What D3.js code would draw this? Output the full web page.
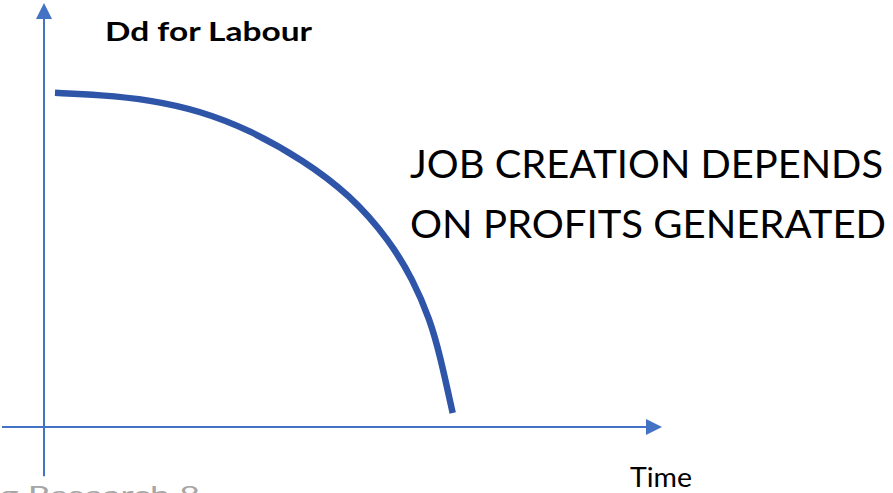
<!DOCTYPE html>
<html>
<head>
<meta charset="utf-8">
<script src="https://cdn.jsdelivr.net/npm/d3@7"></script>
<style>
  html, body { margin: 0; padding: 0; background: #fff; }
  svg { display: block; }
  text { font-family: Lato, "Open Sans", sans-serif; }
</style>
</head>
<body>
<svg id="chart" width="893" height="493"></svg>
<script>
// demand for labour over time
var timeVals = [1.8, 9.2, 17.4, 25.6, 33.8, 42.5, 50.2, 56.6, 60.5, 63.3, 64.9, 67.0];
var demandVals = [81.5, 81.0, 79.8, 77.1, 72.4, 65.1, 56.6, 45.6, 35.9, 26.1, 17.6, 3.4];

var titleLabel = "Dd for Labour";
var xLabel = "Time";
var noteLines = ["JOB CREATION DEPENDS", "ON PROFITS GENERATED"];
var footer = "g Research 8";

function draw() {
    var svg = d3.select("#chart");

    var x = d3.scaleLinear().domain([0, 100]).range([44, 654]);
    var y = d3.scaleLinear().domain([0, 100]).range([427, 17]);

    var axisColor = "#4472c4";

    // y axis
    svg.append("line")
        .attr("x1", x(0)).attr("x2", x(0))
        .attr("y1", y(-12)).attr("y2", y(100) + 2)
        .attr("stroke", axisColor)
        .attr("stroke-width", 2);
    svg.append("path")
        .attr("d", "M" + x(0) + "," + (y(100) - 14) +
                   "L" + (x(0) + 8) + "," + (y(100) + 2) +
                   "L" + (x(0) - 8) + "," + (y(100) + 2) + "Z")
        .attr("fill", axisColor);

    // x axis
    svg.append("line")
        .attr("x1", 2).attr("x2", x(100) - 8)
        .attr("y1", y(0)).attr("y2", y(0))
        .attr("stroke", axisColor)
        .attr("stroke-width", 2);
    svg.append("path")
        .attr("d", "M" + (x(100) + 8) + "," + y(0) +
                   "L" + (x(100) - 8) + "," + (y(0) - 8) +
                   "L" + (x(100) - 8) + "," + (y(0) + 8) + "Z")
        .attr("fill", axisColor);

    // the curve
    var pts = timeVals.map(function(t, i) { return [t, demandVals[i]]; });
    var line = d3.line()
        .x(function(d) { return x(d[0]); })
        .y(function(d) { return y(d[1]); })
        .curve(d3.curveBasis);

    svg.append("path")
        .datum(pts)
        .attr("d", line)
        .attr("fill", "none")
        .attr("stroke", "#2f55a8")
        .attr("stroke-width", 6.5);

    // texts
    svg.append("text")
        .attr("x", 105).attr("y", 41)
        .attr("font-size", 27)
        .attr("font-weight", "bold")
        .attr("textLength", 207)
        .attr("lengthAdjust", "spacingAndGlyphs")
        .text(titleLabel);

    svg.selectAll(".note")
        .data(noteLines)
        .enter().append("text")
        .attr("class", "note")
        .attr("x", 410)
        .attr("y", function(d, i) { return 178 + i * 60; })
        .attr("font-size", 39)
        .attr("textLength", function(d, i) { return i ? 476 : 473; })
        .attr("lengthAdjust", "spacingAndGlyphs")
        .text(function(d) { return d; });

    svg.append("text")
        .attr("x", 630).attr("y", 487)
        .attr("font-size", 27)
        .attr("textLength", 62)
        .attr("lengthAdjust", "spacingAndGlyphs")
        .text(xLabel);

    svg.append("text")
        .attr("x", 0).attr("y", 503)
        .attr("font-size", 24)
        .attr("fill", "#a6a6a6")
        .attr("textLength", 200)
        .attr("lengthAdjust", "spacingAndGlyphs")
        .text(footer);
}

draw();
</script>
</body>
</html>
